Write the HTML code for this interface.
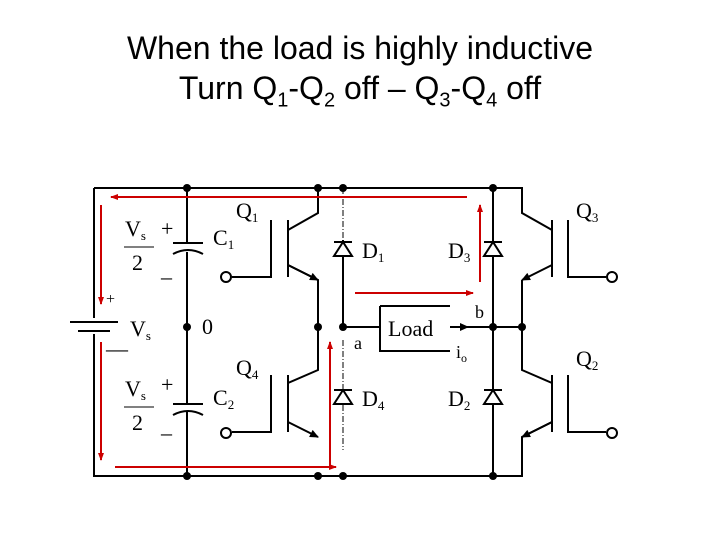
<!DOCTYPE html>
<html><head><meta charset="utf-8"><style>
body{margin:0;background:#fff;width:720px;height:540px;overflow:hidden}
.t{position:absolute;left:0;width:720px;text-align:center;font-family:"Liberation Sans",sans-serif;font-size:32px;line-height:36px;color:#000}
</style></head><body>
<div class="t" style="top:30px">When the load is highly inductive</div>
<div class="t" style="top:70px">Turn Q<sub style="font-size:20px">1</sub>-Q<sub style="font-size:20px">2</sub> off – Q<sub style="font-size:20px">3</sub>-Q<sub style="font-size:20px">4</sub> off</div>
<svg width="720" height="540" style="position:absolute;left:0;top:0" font-family="Liberation Serif,serif">
<defs>
<marker id="r" markerWidth="8" markerHeight="8" refX="7" refY="4" orient="auto" markerUnits="userSpaceOnUse"><path d="M0,1 L8,4 L0,7z" fill="#c00"/></marker>
<marker id="k" markerWidth="9" markerHeight="8" refX="8" refY="4" orient="auto" markerUnits="userSpaceOnUse"><path d="M0,0 L9,4 L0,8z" fill="#000"/></marker>
</defs>
<g stroke="#000" stroke-width="2" fill="none">
<path d="M94,188 H522 V213 L552,230"/>
<path d="M94,188 V318 M94,334 V476 H522 V437 L552,422"/>
<path d="M70,322 H118 M78,331 H110" />
<path d="M187,188 V243 M187,252 V404 M187,412 V476"/>
<path d="M173,243 H203 M173,254 Q188,246 203,254 M173,404 H203 M173,415 Q188,407 203,415"/>
<path d="M318,188 V213 L288,230 M288,220 V277 M271,220 V277 H232 M288,265 L318,280 V370 L288,383 M288,375 V432 M271,375 V432 H232"/>
<path d="M288,422 L318,437" marker-end="url(#k)"/>
<path d="M288,265 L318,280" marker-end="url(#k)"/>
<path d="M552,220 V277 M568,220 V277 H606 M522,280 V370 L552,383 M552,375 V432 M568,375 V432 H606"/>
<path d="M552,265 L522,280" marker-end="url(#k)"/>
<path d="M552,422 L522,437" marker-end="url(#k)"/>
<path d="M343,240 V327 M343,327 H380 M450,327 H522 M493,188 V476"/>
<path d="M380,306 H450 M380,306 V351 H450"/>
<path d="M343,188 V240 M343,340 V390 M343,405 V450" stroke-width="1" stroke-dasharray="6,2,1,2"/>
<path d="M452,327 H468" marker-end="url(#k)"/>
</g>
<g stroke="#000" stroke-width="2" fill="#fff">
<circle cx="226" cy="277" r="5"/><circle cx="226" cy="433" r="5"/>
<circle cx="612" cy="277" r="5"/><circle cx="612" cy="433" r="5"/>
</g>
<g fill="#fff" stroke="#000" stroke-width="2">
<path d="M343,242 L334,256 H352Z M334,242 H352"/>
<path d="M343,390 L334,404 H352Z M334,390 H352"/>
<path d="M493,242 L484,256 H502Z M484,242 H502"/>
<path d="M493,390 L484,404 H502Z M484,390 H502"/>
</g>
<g fill="#000">
<circle cx="187" cy="188" r="4"/><circle cx="318" cy="188" r="4"/><circle cx="343" cy="188" r="4"/><circle cx="493" cy="188" r="4"/>
<circle cx="187" cy="327" r="4"/><circle cx="318" cy="327" r="4"/><circle cx="343" cy="327" r="4"/><circle cx="493" cy="327" r="4"/><circle cx="522" cy="327" r="4"/>
<circle cx="187" cy="476" r="4"/><circle cx="318" cy="476" r="4"/><circle cx="343" cy="476" r="4"/><circle cx="493" cy="476" r="4"/>
</g>
<g font-size="22" fill="#000">
<text x="125" y="236">V<tspan font-size="13" dy="4">s</tspan></text><path d="M124,247 H154" stroke="#000"/><text x="132" y="270">2</text>
<text x="125" y="396">V<tspan font-size="13" dy="4">s</tspan></text><path d="M124,407 H154" stroke="#000"/><text x="132" y="430">2</text>
<text x="161" y="236">+</text><text x="161" y="284">–</text>
<text x="161" y="392">+</text><text x="161" y="440">–</text>
<text x="106" y="304" font-size="16">+</text><text x="106" y="356">—</text>
<text x="130" y="336">V<tspan font-size="13" dy="4">s</tspan></text>
<text x="202" y="334">0</text>
<text x="213" y="245">C<tspan font-size="13" dy="4">1</tspan></text>
<text x="213" y="405">C<tspan font-size="13" dy="4">2</tspan></text>
<text x="236" y="218">Q<tspan font-size="13" dy="4">1</tspan></text>
<text x="236" y="375">Q<tspan font-size="13" dy="4">4</tspan></text>
<text x="362" y="258">D<tspan font-size="13" dy="4">1</tspan></text>
<text x="362" y="406">D<tspan font-size="13" dy="4">4</tspan></text>
<text x="448" y="258">D<tspan font-size="13" dy="4">3</tspan></text>
<text x="448" y="406">D<tspan font-size="13" dy="4">2</tspan></text>
<text x="576" y="218">Q<tspan font-size="13" dy="4">3</tspan></text>
<text x="576" y="366">Q<tspan font-size="13" dy="4">2</tspan></text>
<text x="388" y="336">Load</text>
<text x="354" y="349" font-size="18">a</text>
<text x="475" y="318" font-size="18">b</text>
<text x="456" y="358" font-size="18">i<tspan font-size="12" dy="4">o</tspan></text>
</g>
<g stroke="#c00" stroke-width="2" fill="none">
<path d="M467,197 H111" marker-end="url(#r)"/>
<path d="M101,205 V304" marker-end="url(#r)"/>
<path d="M101,342 V460" marker-end="url(#r)"/>
<path d="M115,467 H336" marker-end="url(#r)"/>
<path d="M330,465 V342" marker-end="url(#r)"/>
<path d="M355,293 H473" marker-end="url(#r)"/>
<path d="M480,282 V205" marker-end="url(#r)"/>
</g>
</svg>
</body></html>
